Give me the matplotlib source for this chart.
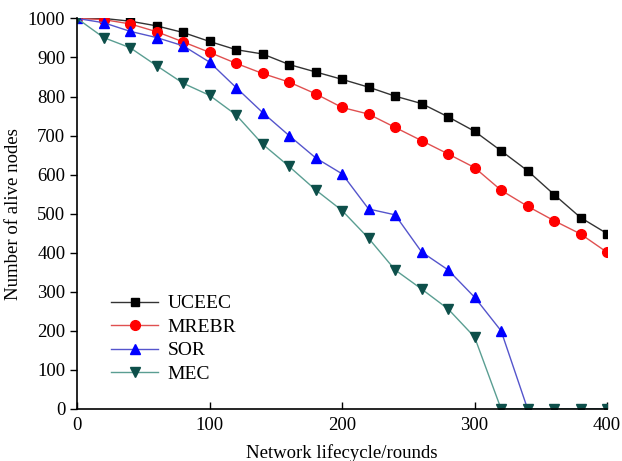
import matplotlib
matplotlib.use("Agg")
import matplotlib.pyplot as plt
import numpy as np

plt.rcParams['font.family'] = ['Liberation Serif', 'DejaVu Serif']

rounds = np.arange(0, 401, 20)
uceec = [1000, 1000, 993, 981, 964, 941, 920, 909, 882, 863, 844,
         824, 801, 782, 748, 711, 661, 610, 549, 490, 449]
mrebr = [1000, 997, 986, 966, 940, 913, 885, 859, 837, 807, 772,
         755, 721, 687, 653, 618, 560, 519, 482, 448, 401]
sor = [1000, 989, 967, 951, 930, 888, 823, 759, 700, 643, 602,
       512, 497, 402, 356, 286, 200, 0, 0, 0, 0]
mec = [1000, 951, 925, 879, 834, 803, 753, 678, 621, 561, 508,
       437, 356, 307, 256, 184, 0, 0, 0, 0, 0]

fig = plt.figure(figsize=(6.22, 4.61), dpi=100)
ax = fig.add_axes([0.124, 0.113, 0.852, 0.847])

ax.plot(rounds, uceec, color='#333333', lw=1, marker='s', ms=6,
        mfc='black', mec='black', label='UCEEC')
ax.plot(rounds, mrebr, color='#e05050', lw=1, marker='o', ms=7,
        mfc='#ff0000', mec='#ff0000', label='MREBR')
ax.plot(rounds, sor, color='#5555cc', lw=1, marker='^', ms=7.5,
        mfc='#0000ff', mec='#0000ff', label='SOR')
ax.plot(rounds, mec, color='#5a9e92', lw=1, marker='v', ms=7.5,
        mfc='#0d4f4a', mec='#0d4f4a', label='MEC')

ax.set_xlim(0, 400)
ax.set_ylim(0, 1000)
ax.set_xticks([0, 100, 200, 300, 400])
ax.set_yticks(range(0, 1001, 100))
ax.tick_params(axis='x', direction='in', length=5, width=1, labelsize=13.5, pad=6)
ax.tick_params(axis='y', direction='out', length=5, width=1, labelsize=13.5)
ax.spines['top'].set_visible(False)
ax.spines['right'].set_visible(False)
ax.spines['left'].set_linewidth(1.2)
ax.spines['bottom'].set_linewidth(1.2)

ax.set_xlabel('Network lifecycle/rounds', fontsize=13.5, labelpad=7)
ax.set_ylabel('Number of alive nodes', fontsize=13.5)

ax.legend(loc='lower left', bbox_to_anchor=(0.05, 0.047), frameon=False,
          fontsize=14, handlelength=2.4, labelspacing=0.3, handletextpad=0.5,
          borderaxespad=0)

fig.savefig('out.png', dpi=100)
